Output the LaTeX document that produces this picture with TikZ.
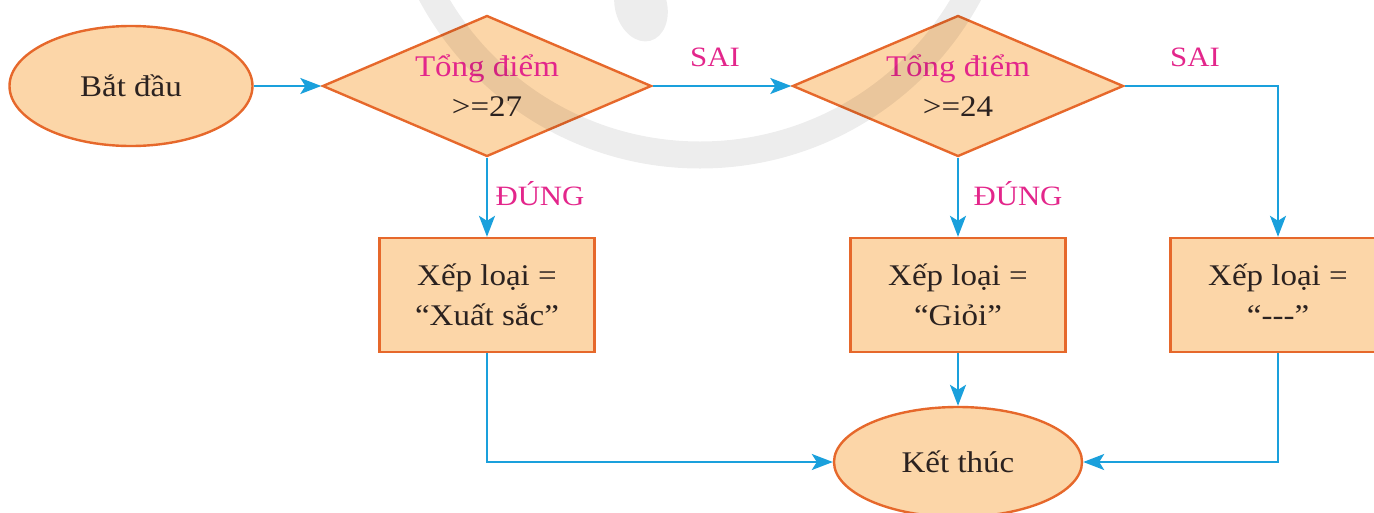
\documentclass[tikz,border=0pt]{standalone}
\usepackage{fontspec}
\setmainfont{Liberation Serif}[FakeStretch=1.1]
\usetikzlibrary{shapes.geometric,arrows.meta,calc}
\definecolor{boxfill}{HTML}{FCD6A8}
\definecolor{boxdraw}{HTML}{E6682B}
\definecolor{arrowblue}{HTML}{1AA0DC}
\definecolor{labelpink}{HTML}{E3268B}
\definecolor{textdark}{HTML}{2B2220}
\begin{document}
\begin{tikzpicture}[x=1pt,y=-1pt,
  base/.style={draw=boxdraw,fill=boxfill,line width=2.4pt,text=textdark,
    font=\fontsize{30}{40}\selectfont,align=center,inner sep=0pt},
  terminal/.style={base,ellipse},
  decision/.style={base,diamond,aspect=2.33},
  process/.style={base,rectangle},
  conn/.style={draw=arrowblue,line width=2pt,
    -{Stealth[length=21pt,width=16pt,inset=5pt]}},
  lbl/.style={text=labelpink,font=\fontsize{28}{34}\selectfont,inner sep=0pt},
  watermark/.style={black,opacity=0.07}]
\useasboundingbox (0,0) rectangle (1374,512);
\clip (0,0) rectangle (1374,512);

\node[terminal,minimum width=243pt,minimum height=120pt] (start) at (131,86) {Bắt đầu};
\node[decision,minimum width=329pt,minimum height=141pt] (d1) at (487,86)
  {\textcolor{labelpink}{Tổng điểm}\\>=27};
\node[decision,minimum width=331pt,minimum height=141pt] (d2) at (958,86)
  {\textcolor{labelpink}{Tổng điểm}\\>=24};
\node[process,minimum width=215pt,minimum height=114pt] (b1) at (487,295)
  {Xếp loại =\\“Xuất sắc”};
\node[process,minimum width=215pt,minimum height=114pt] (b2) at (958,295)
  {Xếp loại =\\“Giỏi”};
\node[process,minimum width=215pt,minimum height=114pt] (b3) at (1278,295)
  {Xếp loại =\\“-{}-{}-”};
\node[terminal,minimum width=248pt,minimum height=110pt] (end) at (958,462) {Kết thúc};

\node[lbl] (sai1) at (715,57) {SAI};
\node[lbl] (sai2) at (1195,57) {SAI};
\node[lbl] (dung1) at (540,194) {ĐÚNG};
\node[lbl] (dung2) at (1018,194) {ĐÚNG};

\draw[conn] (start.east) -- (d1.west);
\draw[conn] (d1.east) -- (d2.west);
\draw[conn] (d2.east) -| (b3.north);
\draw[conn] (d1.south) -- (b1.north);
\draw[conn] (d2.south) -- (b2.north);
\draw[conn] (b1.south) |- (end.west);
\draw[conn] (b2.south) -- (end.north);
\draw[conn] (b3.south) |- (end.east);

\draw[watermark,line width=27pt] (700,-150) circle[radius=305];
\begin{scope}[shift={(641,6)},rotate=15]
  \fill[watermark] (0,0) ellipse[x radius=26,y radius=36];
\end{scope}
\end{tikzpicture}
\end{document}
